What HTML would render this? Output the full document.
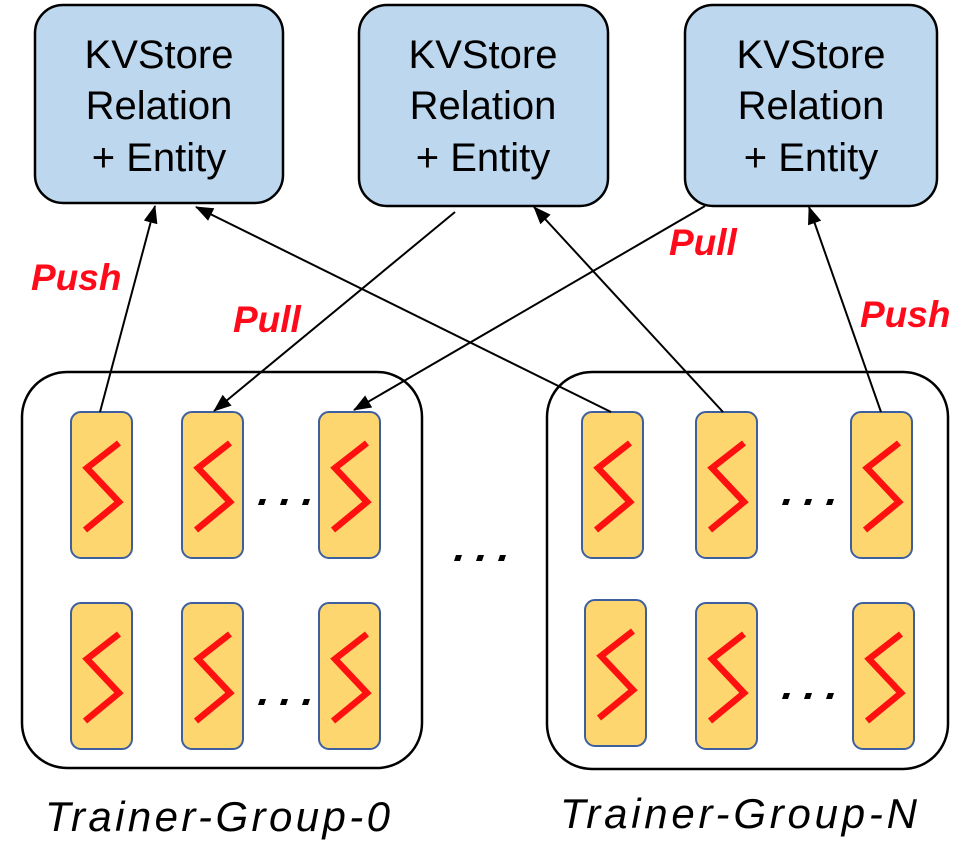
<!DOCTYPE html>
<html><head><meta charset="utf-8"><style>
html,body{margin:0;padding:0;background:#fff;}
svg{display:block;}
</style></head><body>
<svg width="970" height="850" viewBox="0 0 970 850" xmlns="http://www.w3.org/2000/svg">
<defs>
<marker id="ah" markerWidth="18" markerHeight="14" refX="17" refY="7" orient="auto" markerUnits="userSpaceOnUse">
<path d="M0,0 L18,7 L0,14 Z" fill="#000"/>
</marker>
<g id="cell">
<rect x="0" y="0" width="61" height="146" rx="10" fill="#fdd66f" stroke="#3d5f9e" stroke-width="2"/>
<polyline points="48,31 16,56 48,90 14,118" fill="none" stroke="#ff1010" stroke-width="6.5" stroke-linejoin="miter"/>
</g>
<g id="dots">
<path d="M2,0 h6 l-2,6 h-6 z M24,0 h6 l-2,6 h-6 z M46,0 h6 l-2,6 h-6 z" fill="#000"/>
</g>
</defs>

<g font-family="'Liberation Sans', sans-serif" font-size="40" text-anchor="middle" fill="#000">
<rect x="35" y="5" width="248" height="198" rx="28" fill="#bdd7ee" stroke="#000" stroke-width="2.5"/>
<text x="159" y="68">KVStore</text><text x="159" y="119">Relation</text><text x="159" y="171">+ Entity</text>
<rect x="359" y="5" width="249" height="201" rx="28" fill="#bdd7ee" stroke="#000" stroke-width="2.5"/>
<text x="483" y="68">KVStore</text><text x="483" y="119">Relation</text><text x="483" y="171">+ Entity</text>
<rect x="685" y="5" width="252" height="201" rx="28" fill="#bdd7ee" stroke="#000" stroke-width="2.5"/>
<text x="811" y="68">KVStore</text><text x="811" y="119">Relation</text><text x="811" y="171">+ Entity</text>
</g>

<rect x="22" y="372" width="400" height="396" rx="45" fill="none" stroke="#000" stroke-width="2.5"/>
<rect x="547" y="372" width="401" height="397" rx="45" fill="none" stroke="#000" stroke-width="2.5"/>

<use href="#cell" x="71" y="412"/><use href="#cell" x="182" y="412"/><use href="#cell" x="319" y="412"/>
<use href="#cell" x="71" y="603"/><use href="#cell" x="182" y="603"/><use href="#cell" x="319" y="603"/>
<use href="#cell" x="582" y="412"/><use href="#cell" x="696" y="412"/><use href="#cell" x="851" y="412"/>
<use href="#cell" x="585" y="600"/><use href="#cell" x="696" y="603"/><use href="#cell" x="853" y="603"/>

<use href="#dots" x="258" y="499"/><use href="#dots" x="258" y="699"/>
<use href="#dots" x="782" y="499"/><use href="#dots" x="782" y="693"/>
<use href="#dots" x="454" y="555"/>

<g stroke="#000" stroke-width="2" fill="none" marker-end="url(#ah)">
<line x1="100" y1="412" x2="155" y2="206"/>
<line x1="611" y1="412" x2="196" y2="207"/>
<line x1="455" y1="212" x2="214" y2="411"/>
<line x1="705" y1="206" x2="354" y2="410"/>
<line x1="723" y1="412" x2="534" y2="207"/>
<line x1="881" y1="412" x2="809" y2="207"/>
</g>

<g font-family="'Liberation Sans', sans-serif" font-size="37" font-weight="bold" font-style="italic" fill="#ff0a1a">
<text x="31" y="290">Push</text>
<text x="233" y="332">Pull</text>
<text x="669" y="255">Pull</text>
<text x="860" y="327">Push</text>
</g>

<g font-family="'Liberation Sans', sans-serif" font-size="42" font-style="italic" fill="#000">
<text x="45" y="831" textLength="345" lengthAdjust="spacing">Trainer-Group-0</text>
<text x="560" y="828" textLength="357" lengthAdjust="spacing">Trainer-Group-N</text>
</g>
</svg>
</body></html>
